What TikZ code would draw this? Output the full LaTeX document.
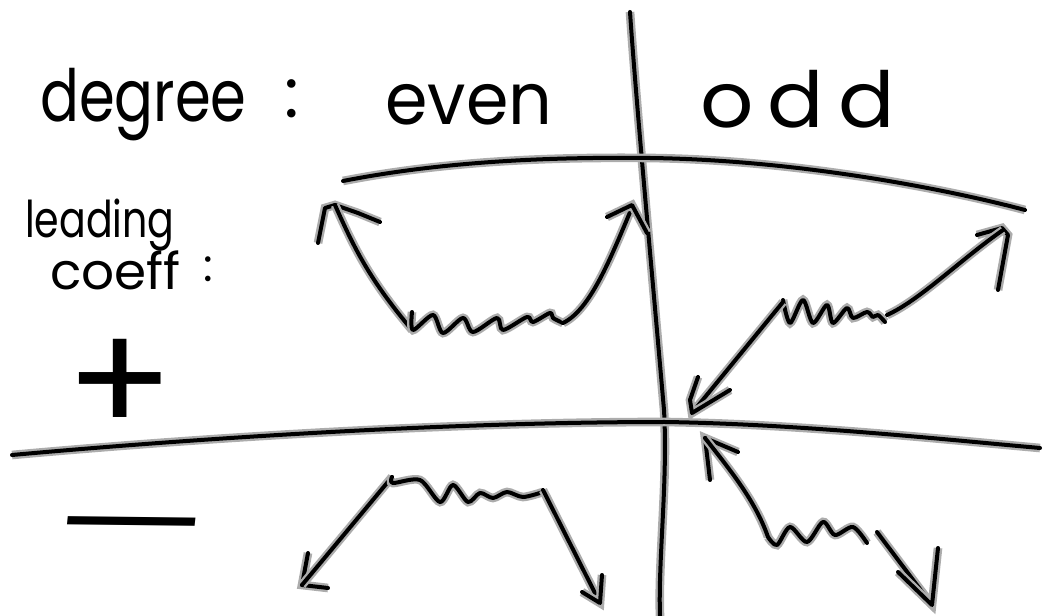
\documentclass[tikz,border=0pt]{standalone}
\usepackage{fontspec}
\setmainfont{Poppins}
\begin{document}
\begin{tikzpicture}[x=0.75pt,y=-0.75pt,
 ink/.style={line width=3pt, draw=black, line cap=round, line join=round, preaction={draw=gray!65, line width=6.5pt}},
 lbl/.style={anchor=base west, inner sep=0pt, text=black}]
\useasboundingbox (0,0) rectangle (1043,616);
% grid lines
\draw[ink] (630,12) .. controls (636,100) and (650,250) .. (664,410) .. controls (668,480) and (658,560) .. (660,616);
\draw[ink] (343,181) .. controls (450,160) and (560,157) .. (650,158) .. controls (800,160) and (950,190) .. (1025,210);
\draw[ink] (12,455) .. controls (200,438) and (450,422) .. (665,422) .. controls (800,424) and (950,440) .. (1040,448);
% labels
\node[lbl, font=\fontsize{54}{60}\selectfont, xscale=0.8] (deg) at (40,122) {degree};
\node[lbl, font=\fontsize{52}{60}\selectfont] (col1) at (284,118) {:};
\node[lbl, font=\fontsize{54}{60}\selectfont, xscale=0.95] (even) at (385,125) {even};
\node[lbl, font=\fontsize{58}{60}\selectfont, xscale=1.08] (odd) at (700,128) {o\,d\,d};
\node[lbl, font=\fontsize{38}{44}\selectfont, xscale=0.78] (lead) at (25,238) {leading};
\node[lbl, font=\fontsize{38}{44}\selectfont, xscale=1.02] (coef) at (50,290) {coeff};
\node[lbl, font=\fontsize{34}{40}\selectfont] (col2) at (203,282) {:};
\node[font=\fontsize{100}{110}\selectfont, inner sep=0pt, xscale=1.2, yscale=1.15] (plus) at (120,387) {+};
\node[font=\fontsize{80}{90}\selectfont, inner sep=0pt, xscale=3.0, rotate=-2] (minus) at (130,539) {−};
% even, positive
\draw[ink] (318,243) -- (325,208) -- (335,205) -- (358,213) -- (380,222);
\draw[ink] (335,205) .. controls (355,250) and (370,280) .. (412,330);
\draw[ink] plot[smooth] coordinates {(412,312) (413,330) (433,315) (443,333) (463,318) (473,332) (497,318) (503,330) (527,317) (533,322) (550,313) (553,318) (563,323)};
\draw[ink] (563,323) .. controls (590,310) and (610,260) .. (633,205);
\draw[ink] (607,217) -- (632,205) -- (647,233);
% odd, positive
\draw[ink] (977,235) -- (1002,228) -- (1008,235) -- (998,290);
\draw[ink] (1003,230) .. controls (960,260) and (920,300) .. (887,315);
\draw[ink] plot[smooth] coordinates {(783,300) (790,323) (803,300) (813,323) (827,305) (833,323) (847,308) (853,318) (867,312) (873,317) (878,315) (885,322)};
\draw[ink] (783,302) -- (692,413);
\draw[ink] (698,377) -- (690,400) -- (692,413) -- (730,390);
% even, negative
\draw[ink] (308,553) -- (302,585) -- (328,588);
\draw[ink] (302,585) -- (392,477);
\draw[ink] plot[smooth] coordinates {(392,477) (393,483) (420,480) (440,502) (453,485) (468,502) (480,493) (493,498) (507,492) (523,497) (543,492)};
\draw[ink] (543,490) -- (600,603);
\draw[ink] (582,592) -- (600,603) -- (602,575);
% odd, negative
\draw[ink] (710,480) -- (705,438) -- (738,452);
\draw[ink] (705,438) .. controls (730,470) and (755,500) .. (768,537);
\draw[ink] plot[smooth] coordinates {(768,537) (777,545) (790,527) (807,542) (823,522) (835,535) (853,527) (867,543)};
\draw[ink] (877,532) -- (932,605);
\draw[ink] (898,572) -- (932,605) -- (938,548);
\end{tikzpicture}
\end{document}
